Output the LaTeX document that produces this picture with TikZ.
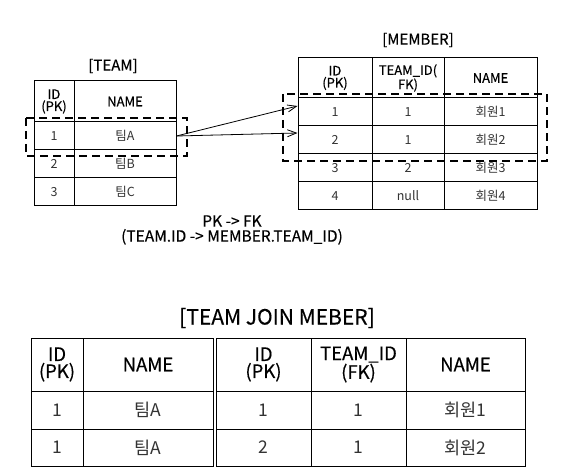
\documentclass[tikz,border=0pt]{standalone}
\usepackage{fontspec}
\setmainfont{Noto Sans CJK KR}
\newfontfamily\hdfont{Noto Sans CJK KR}[FakeBold=0.35]
\usetikzlibrary{arrows.meta}

\begin{document}
\begin{tikzpicture}[x=1pt,y=-1pt]

\tikzset{cell/.style = {shape=rectangle,draw,line width=1pt,inner sep=0pt,align=center,font=\hdfont\fontsize{13}{12}\selectfont}}
\tikzset{val/.style = {cell,text=black!80,font=\fontsize{12.5}{13}\selectfont}}
\tikzset{bigcell/.style = {cell,font=\hdfont\fontsize{18.5}{17}\selectfont}}
\tikzset{bigval/.style = {cell,text=black!80,font=\fontsize{17.5}{18}\selectfont}}
\tikzset{title/.style = {font=\hdfont\fontsize{15}{15}\selectfont,align=center}}
\tikzset{zone/.style = {line width=1.8pt,dash pattern=on 8pt off 5pt}}
\tikzset{edge/.style = {-{Straight Barb[length=9pt,width=7pt]},line width=0.8pt}}
\useasboundingbox (0,0) rectangle (563,476);

%team
\node[title] (team) at (113,66) {[TEAM]};
\node[cell, minimum width=40, minimum height=41] (tid) at (54,101.5) {ID\\(PK)};
\node[cell, minimum width=102, minimum height=41] (tname) at (125,101.5) {NAME};
\node[val, minimum width=40, minimum height=28] (t1id) at (54,136) {1};
\node[val, minimum width=102, minimum height=28] (t1name) at (125,136) {팀A};
\node[val, minimum width=40, minimum height=28] (t2id) at (54,164) {2};
\node[val, minimum width=102, minimum height=28] (t2name) at (125,164) {팀B};
\node[val, minimum width=40, minimum height=28] (t3id) at (54,192) {3};
\node[val, minimum width=102, minimum height=28] (t3name) at (125,192) {팀C};

%member
\node[title] (member) at (418,40) {[MEMBER]};
\node[cell, minimum width=74, minimum height=40] (mid) at (335,78) {ID\\(PK)};
\node[cell, minimum width=72, minimum height=40] (mteam) at (408,78) {TEAM\_ID(\\FK)};
\node[cell, minimum width=93, minimum height=40] (mname) at (490.5,78) {NAME};
\node[val, minimum width=74, minimum height=28] (m1id) at (335,112) {1};
\node[val, minimum width=72, minimum height=28] (m1team) at (408,112) {1};
\node[val, minimum width=93, minimum height=28] (m1name) at (490.5,112) {회원1};
\node[val, minimum width=74, minimum height=28] (m2id) at (335,140) {2};
\node[val, minimum width=72, minimum height=28] (m2team) at (408,140) {1};
\node[val, minimum width=93, minimum height=28] (m2name) at (490.5,140) {회원2};
\node[val, minimum width=74, minimum height=28] (m3id) at (335,168) {3};
\node[val, minimum width=72, minimum height=28] (m3team) at (408,168) {2};
\node[val, minimum width=93, minimum height=28] (m3name) at (490.5,168) {회원3};
\node[val, minimum width=74, minimum height=28] (m4id) at (335,196) {4};
\node[val, minimum width=72, minimum height=28] (m4team) at (408,196) {null};
\node[val, minimum width=93, minimum height=28] (m4name) at (490.5,196) {회원4};

%selected rows
\draw[zone] (26,118) rectangle (187,156);
\draw[zone] (283,94) rectangle (547,161);

%pk -> fk
\draw[edge] (t1name.east) -- ([yshift=6pt]m1id.west);
\draw[edge] (t1name.east) -- ([yshift=7pt]m2id.west);
\node[title, font=\hdfont\fontsize{15.5}{15}\selectfont] (rel) at (232,230) {PK -> FK\\(TEAM.ID -> MEMBER.TEAM\_ID)};

%join
\node[title, font=\hdfont\fontsize{21}{21}\selectfont] (join) at (277,318) {[TEAM JOIN MEBER]};
\node[bigcell, minimum width=52, minimum height=53] (jtid) at (57,364.5) {ID\\(PK)};
\node[bigcell, minimum width=130, minimum height=53] (jtname) at (148,364.5) {NAME};
\node[bigcell, minimum width=95, minimum height=53] (jmid) at (263.5,364.5) {ID\\(PK)};
\node[bigcell, minimum width=95, minimum height=53] (jmteam) at (358.5,364.5) {TEAM\_ID\\(FK)};
\node[bigcell, minimum width=119, minimum height=53] (jmname) at (465.5,364.5) {NAME};
\node[bigval, minimum width=52, minimum height=38] (j1tid) at (57,410) {1};
\node[bigval, minimum width=130, minimum height=38] (j1tname) at (148,410) {팀A};
\node[bigval, minimum width=95, minimum height=38] (j1mid) at (263.5,410) {1};
\node[bigval, minimum width=95, minimum height=38] (j1mteam) at (358.5,410) {1};
\node[bigval, minimum width=119, minimum height=38] (j1mname) at (465.5,410) {회원1};
\node[bigval, minimum width=52, minimum height=37] (j2tid) at (57,447.5) {1};
\node[bigval, minimum width=130, minimum height=37] (j2tname) at (148,447.5) {팀A};
\node[bigval, minimum width=95, minimum height=37] (j2mid) at (263.5,447.5) {2};
\node[bigval, minimum width=95, minimum height=37] (j2mteam) at (358.5,447.5) {1};
\node[bigval, minimum width=119, minimum height=37] (j2mname) at (465.5,447.5) {회원2};

\end{tikzpicture}
\end{document}
